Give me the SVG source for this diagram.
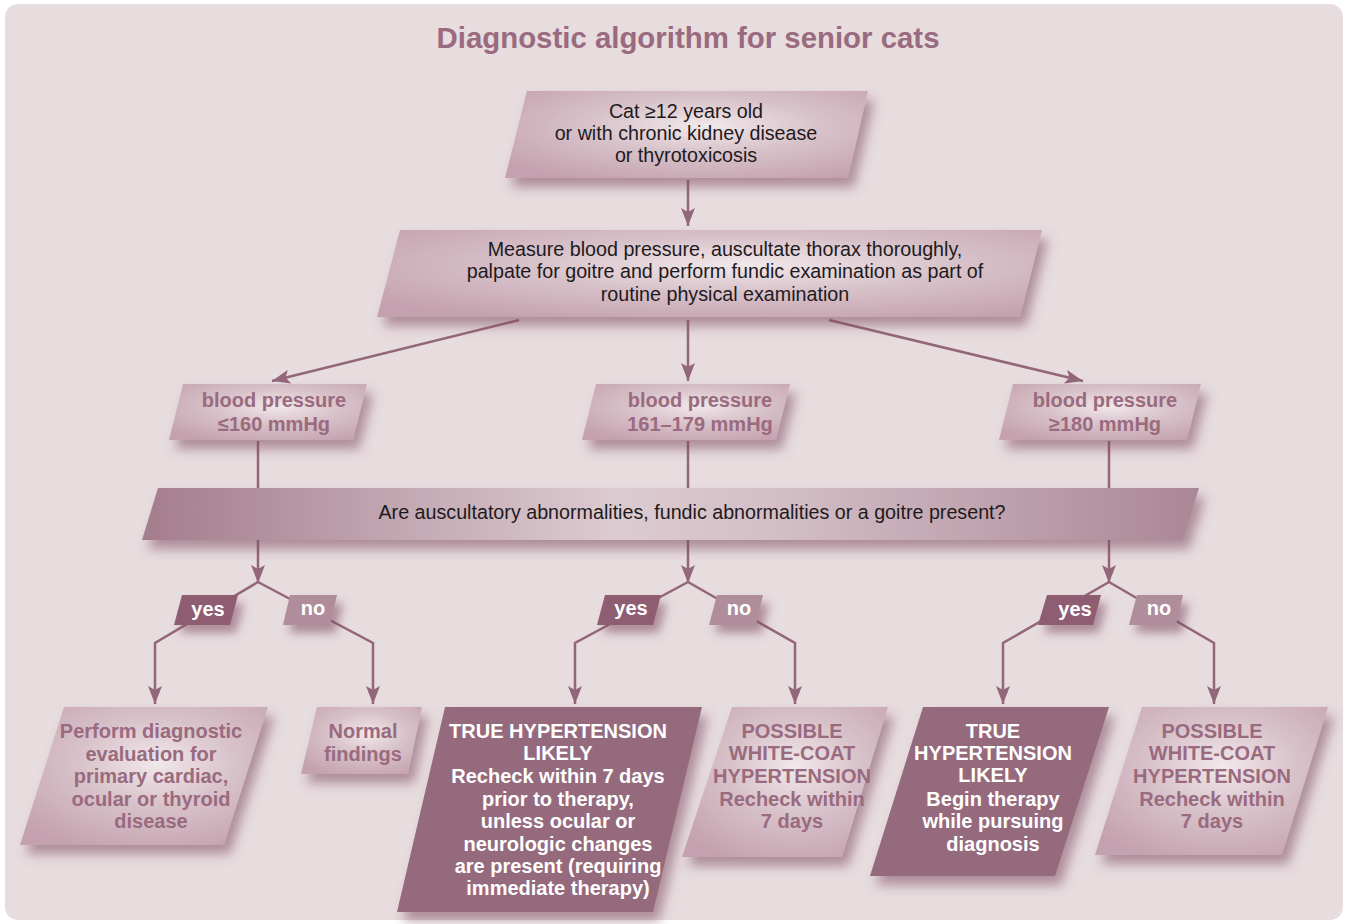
<svg xmlns="http://www.w3.org/2000/svg" width="1349" height="924" viewBox="0 0 1349 924">
<defs>
<style>
.pl{fill:url(#lightGrad);filter:url(#shadow)}
.dk{fill:#966b7d;filter:url(#shadow)}
.yes{fill:#8f5d72;filter:url(#shadowS)}
.no{fill:#b08d9a;filter:url(#shadowS)}
.band{fill:url(#bandGrad);filter:url(#shadow)}
.t{font-family:"Liberation Sans",Arial,sans-serif;font-size:19.7px;fill:#1e1a1c;text-anchor:middle}
.b{font-family:"Liberation Sans",Arial,sans-serif;font-size:20px;font-weight:bold;fill:#9a6a7f;text-anchor:middle}
.w{font-family:"Liberation Sans",Arial,sans-serif;font-size:20px;font-weight:bold;fill:#ffffff;text-anchor:middle}
.ln{fill:none;stroke:#94667a;stroke-width:2.5}
.ar{marker-end:url(#ah)}
</style>
<radialGradient id="lightGrad" cx="0.55" cy="0.4" r="0.7">
<stop offset="0" stop-color="#f1e8ea"/>
<stop offset="0.45" stop-color="#d8c2ca"/>
<stop offset="1" stop-color="#c4a1ae"/>
</radialGradient>
<linearGradient id="bandGrad" x1="0" y1="0" x2="1" y2="0">
<stop offset="0" stop-color="#a47d8d"/>
<stop offset="0.45" stop-color="#dccbd1"/>
<stop offset="0.6" stop-color="#d3bec6"/>
<stop offset="1" stop-color="#ab8796"/>
</linearGradient>
<filter id="shadow" x="-20%" y="-20%" width="150%" height="160%">
<feDropShadow dx="6" dy="9" stdDeviation="6" flood-color="#7d4d62" flood-opacity="0.55"/>
</filter>
<filter id="shadowS" x="-40%" y="-40%" width="200%" height="250%">
<feDropShadow dx="6" dy="8" stdDeviation="5" flood-color="#7d4d62" flood-opacity="0.55"/>
</filter>
<marker id="ah" markerUnits="userSpaceOnUse" markerWidth="20" markerHeight="14" refX="18" refY="7" orient="auto">
<path d="M0,0 L18,7 L0,14 L4,7 Z" fill="#94667a"/>
</marker>
</defs>

<rect x="0" y="0" width="1349" height="924" fill="#ffffff"/>
<rect id="panel" x="5" y="4" width="1338" height="916" rx="13" fill="#e7dcde"/>
<text id="title" x="688" y="48" font-family="'Liberation Sans',Arial,sans-serif" font-size="29.4" font-weight="bold" fill="#9a6a7f" text-anchor="middle">Diagnostic algorithm for senior cats</text>

<g id="connectors">
<line class="ln ar" x1="688" y1="180" x2="688" y2="226"/>
<line class="ln ar" x1="519" y1="320" x2="272" y2="381"/>
<line class="ln ar" x1="688" y1="320" x2="688" y2="381"/>
<line class="ln ar" x1="829" y1="320" x2="1083" y2="381"/>
<line class="ln" x1="258" y1="441" x2="258" y2="490"/>
<line class="ln" x1="688" y1="441" x2="688" y2="490"/>
<line class="ln" x1="1109" y1="441" x2="1109" y2="490"/>
<line class="ln ar" x1="258" y1="538" x2="258" y2="583"/>
<line class="ln ar" x1="688" y1="538" x2="688" y2="583"/>
<line class="ln ar" x1="1109" y1="538" x2="1109" y2="583"/>
<polyline class="ln ar" points="258,582 155,643 155,704"/>
<polyline class="ln ar" points="258,582 373,643 373,704"/>
<polyline class="ln ar" points="688,582 575,643 575,704"/>
<polyline class="ln ar" points="688,582 795,643 795,704"/>
<polyline class="ln ar" points="1109,582 1003,643 1003,704"/>
<polyline class="ln ar" points="1109,582 1214,643 1214,704"/>
</g>

<g id="start">
<polygon class="pl" points="527,91 868,91 848,178 505,178"/>
<text class="t" x="686" y="118">Cat ≥12 years old</text>
<text class="t" x="686" y="140">or with chronic kidney disease</text>
<text class="t" x="686" y="162">or thyrotoxicosis</text>
</g>

<g id="measure">
<polygon class="pl" points="400,230 1042,230 1020,317 377,317"/>
<text class="t" x="725" y="256">Measure blood pressure, auscultate thorax thoroughly,</text>
<text class="t" x="725" y="278">palpate for goitre and perform fundic examination as part of</text>
<text class="t" x="725" y="301">routine physical examination</text>
</g>

<g id="bp-low">
<polygon class="pl" points="183,384 367,384 353,440 169,440"/>
<text class="b" x="274" y="407">blood pressure</text>
<text class="b" x="274" y="431">≤160 mmHg</text>
</g>

<g id="bp-mid">
<polygon class="pl" points="596,384 790,384 776,440 582,440"/>
<text class="b" x="700" y="407">blood pressure</text>
<text class="b" x="700" y="431">161–179 mmHg</text>
</g>

<g id="bp-high">
<polygon class="pl" points="1013,384 1201,384 1187,440 999,440"/>
<text class="b" x="1105" y="407">blood pressure</text>
<text class="b" x="1105" y="431">≥180 mmHg</text>
</g>

<g id="question">
<polygon class="band" points="158,488 1199,488 1183,540 142,540"/>
<text class="t" x="692" y="519">Are auscultatory abnormalities, fundic abnormalities or a goitre present?</text>
</g>

<g id="yes-low">
<polygon class="yes" points="182,595 238,595 230,625 174,625"/>
<text class="w" x="208" y="616">yes</text>
</g>
<g id="no-low">
<polygon class="no" points="290,595 337,595 330,625 283,625"/>
<text class="w" x="313" y="615">no</text>
</g>
<g id="yes-mid">
<polygon class="yes" points="605,595 661,595 653,625 597,625"/>
<text class="w" x="631" y="615">yes</text>
</g>
<g id="no-mid">
<polygon class="no" points="717,595 763,595 756,625 709,625"/>
<text class="w" x="739" y="615">no</text>
</g>
<g id="yes-high">
<polygon class="yes" points="1047,595 1101,595 1093,625 1038,625"/>
<text class="w" x="1075" y="616">yes</text>
</g>
<g id="no-high">
<polygon class="no" points="1137,595 1183,595 1176,625 1129,625"/>
<text class="w" x="1159" y="615">no</text>
</g>

<g id="evaluate">
<polygon class="pl" points="64,707 268,707 224,845 20,845"/>
<text class="b" x="151" y="738">Perform diagnostic</text>
<text class="b" x="151" y="760.5">evaluation for</text>
<text class="b" x="151" y="783">primary cardiac,</text>
<text class="b" x="151" y="805.5">ocular or thyroid</text>
<text class="b" x="151" y="828">disease</text>
</g>

<g id="normal">
<polygon class="pl" points="317,707 422,707 408,774 301,774"/>
<text class="b" x="363" y="738">Normal</text>
<text class="b" x="363" y="760.5">findings</text>
</g>

<g id="true-mid">
<polygon class="dk" points="445,707 702,707 653,912 397,912"/>
<text class="w" x="558" y="738">TRUE HYPERTENSION</text>
<text class="w" x="558" y="760">LIKELY</text>
<text class="w" x="558" y="783">Recheck within 7 days</text>
<text class="w" x="558" y="805.5">prior to therapy,</text>
<text class="w" x="558" y="828">unless ocular or</text>
<text class="w" x="558" y="850.5">neurologic changes</text>
<text class="w" x="558" y="873">are present (requiring</text>
<text class="w" x="558" y="895">immediate therapy)</text>
</g>

<g id="whitecoat-mid">
<polygon class="pl" points="732,707 888,707 842,857 682,857"/>
<text class="b" x="792" y="738">POSSIBLE</text>
<text class="b" x="792" y="760">WHITE-COAT</text>
<text class="b" x="792" y="783">HYPERTENSION</text>
<text class="b" x="792" y="805.5">Recheck within</text>
<text class="b" x="792" y="828">7 days</text>
</g>

<g id="true-high">
<polygon class="dk" points="923,707 1109,707 1055,876 870,876"/>
<text class="w" x="993" y="738">TRUE</text>
<text class="w" x="993" y="760">HYPERTENSION</text>
<text class="w" x="993" y="782">LIKELY</text>
<text class="w" x="993" y="805.5">Begin therapy</text>
<text class="w" x="993" y="828">while pursuing</text>
<text class="w" x="993" y="850.5">diagnosis</text>
</g>

<g id="whitecoat-high">
<polygon class="pl" points="1142,707 1328,707 1282,855 1095,855"/>
<text class="b" x="1212" y="738">POSSIBLE</text>
<text class="b" x="1212" y="760">WHITE-COAT</text>
<text class="b" x="1212" y="783">HYPERTENSION</text>
<text class="b" x="1212" y="805.5">Recheck within</text>
<text class="b" x="1212" y="828">7 days</text>
</g>
</svg>
